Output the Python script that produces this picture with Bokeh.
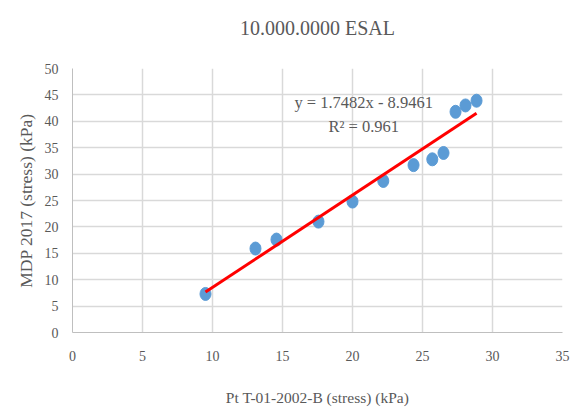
from bokeh.plotting import figure
from bokeh.models import Range1d, FixedTicker, Label, Title
from bokeh.embed import file_html
from bokeh.resources import INLINE

x_vals = [9.5, 13.07, 14.57, 17.57, 20.0, 22.2, 24.36, 25.7, 26.5, 27.36, 28.07, 28.86]
y_vals = [7.3, 15.9, 17.6, 21.0, 24.8, 28.7, 31.7, 32.8, 34.0, 41.8, 43.0, 43.9]
slope = 1.7482
intercept = -8.9461
eq_text = "y = 1.7482x - 8.9461"
r2_text = "R² = 0.961"
x_ticks = [0, 5, 10, 15, 20, 25, 30, 35]
y_ticks = [0, 5, 10, 15, 20, 25, 30, 35, 40, 45, 50]
x_title = "Pt T-01-2002-B (stress) (kPa)"
y_title = "MDP 2017 (stress) (kPa)"
chart_title = "10.000.0000 ESAL"

FONT = "Liberation Serif"
GRAY = "#595959"

p = figure(width=579, height=408, output_backend="svg", toolbar_location=None,
           x_range=Range1d(0, 35), y_range=Range1d(0, 50),
           min_border_left=72, min_border_right=17, min_border_top=68, min_border_bottom=73)
p.outline_line_color = None
p.title.text = chart_title
p.title.align = "center"
p.title.text_font = FONT
p.title.text_font_size = "20px"
p.title.text_font_style = "normal"
p.title.text_color = GRAY
p.title.offset = 0
p.title.standoff = 24

spacer = Title(text=" ", text_font_size="1px", standoff=15)
p.add_layout(spacer, "above")

for ax in (p.xaxis[0], p.yaxis[0]):
    ax.axis_line_color = "#bfbfbf"
    ax.major_tick_line_color = None
    ax.minor_tick_line_color = None
    ax.major_label_text_font = FONT
    ax.major_label_text_font_size = "14px"
    ax.major_label_text_color = GRAY
    ax.axis_label_text_font = FONT
    ax.axis_label_text_font_style = "normal"
    ax.axis_label_text_color = GRAY

p.xaxis.ticker = FixedTicker(ticks=x_ticks)
p.yaxis.ticker = FixedTicker(ticks=y_ticks)
p.xaxis.axis_label = x_title
p.xaxis.axis_label_text_font_size = "15.5px"
p.xaxis.major_label_standoff = 12
p.yaxis.major_label_standoff = 8
p.xaxis.axis_label_standoff = 25

ytitle = Title(text=y_title, align="center", text_font=FONT, text_font_size="17.5px",
               text_font_style="normal", text_color=GRAY, offset=3, standoff=12)
p.add_layout(ytitle, "left")

p.xgrid.grid_line_color = "#d9d9d9"
p.ygrid.grid_line_color = "#d9d9d9"
p.xgrid.grid_line_width = 1.5
p.ygrid.grid_line_width = 1.5

p.ellipse(x_vals, y_vals, width=11, height=13, width_units="screen", height_units="screen",
          fill_color="#5b9bd5", line_color="#5b9bd5")

x0, x1 = min(x_vals), max(x_vals)
p.line([x0, x1], [slope * x0 + intercept, slope * x1 + intercept], line_color="#ff0000", line_width=3)

p.add_layout(Label(x=20.8, y=43.5, text=eq_text, text_font=FONT, text_font_size="16.5px",
                   text_color=GRAY, text_align="center", text_baseline="middle"))
p.add_layout(Label(x=20.8, y=39.0, text=r2_text, text_font=FONT, text_font_size="16.5px",
                   text_color=GRAY, text_align="center", text_baseline="middle"))

open("out.html", "w").write(file_html(p, INLINE))
